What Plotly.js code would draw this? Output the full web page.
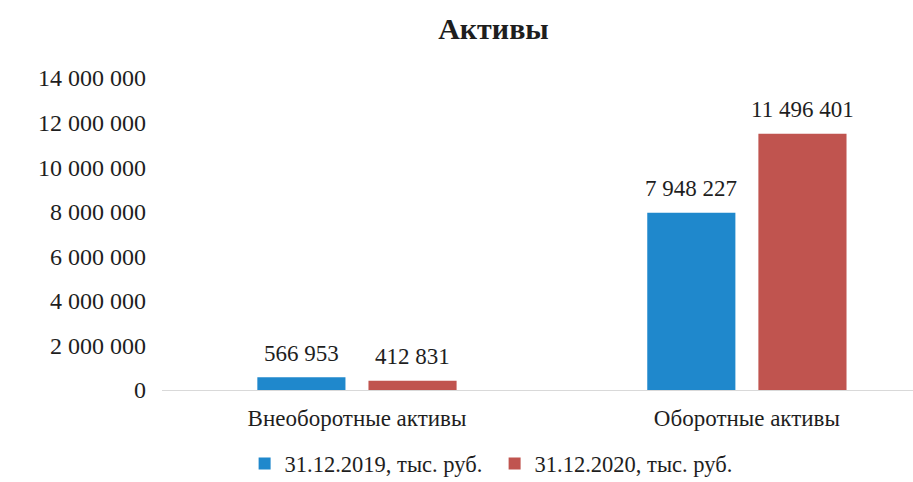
<!DOCTYPE html>
<html>
<head>
<meta charset="utf-8">
<script src="https://cdn.plot.ly/plotly-3.0.1.min.js"></script>
<style>html,body{margin:0;padding:0;overflow:hidden;background:#fff;}</style>
</head>
<body>
<div id="chart" style="width:913px;height:482px;"></div>
<script>
const categories = ["Внеоборотные активы", "Оборотные активы"];
const series2019 = [566953, 7948227];
const series2020 = [412831, 11496401];
const seriesNames = ["31.12.2019, тыс. руб.", "31.12.2020, тыс. руб."];
const tickValues = [0, 2000000, 4000000, 6000000, 8000000, 10000000, 12000000, 14000000];

const FONT = "Liberation Serif, Times New Roman, serif";
const TXT = "#1e1e1e";
const BLUE = "#1f88cc";
const RED = "#c0544f";

function fmt(v) { return String(v).replace(/\B(?=(\d{3})+(?!\d))/g, " "); }

const traces = [
  {type: "bar", name: seriesNames[0], x: categories, y: series2019, marker: {color: BLUE}, hoverinfo: "none"},
  {type: "bar", name: seriesNames[1], x: categories, y: series2020, marker: {color: RED}, hoverinfo: "none"}
];

const annotations = [];
[series2019, series2020].forEach((s, si) => {
  s.forEach((v, ci) => {
    annotations.push({
      x: categories[ci], y: v, xref: "x", yref: "y",
      xshift: si === 0 ? -55.5 : 55.5, yshift: 24,
      text: fmt(v), showarrow: false,
      font: {family: FONT, size: 23, color: TXT}
    });
  });
});

const layout = {
  width: 913, height: 482,
  paper_bgcolor: "#fff", plot_bgcolor: "#fff",
  margin: {l: 162, r: 0, t: 78, b: 92, autoexpand: false},
  separators: ", ",
  title: {text: "<b>Активы</b>", x: 0.5405, xref: "container", xanchor: "center", y: 0.94, yref: "container", yanchor: "middle",
          font: {family: FONT, size: 30, color: TXT}},
  barmode: "group", bargap: 0.43, bargroupgap: 0.207,
  xaxis: {range: [-0.5, 1.426], showline: true, linecolor: "#d9d9d9", linewidth: 1, ticks: "", ticklabelstandoff: 7,
          tickfont: {family: FONT, size: 23, color: TXT}, showgrid: false, zeroline: false, fixedrange: true},
  yaxis: {range: [0, 14000000], tickvals: tickValues, tickformat: ",d", showgrid: false, zeroline: false,
          showline: false, ticks: "", ticklabelstandoff: 15,
          tickfont: {family: FONT, size: 24, color: TXT}, fixedrange: true},
  showlegend: true,
  legend: {orientation: "h", x: 0.11, xanchor: "left", y: -0.237, yanchor: "middle",
           font: {family: FONT, size: 22.5, color: TXT}, itemwidth: 30, traceorder: "normal",
           entrywidth: 205, entrywidthmode: "pixels"},
  annotations: annotations
};

Plotly.newPlot("chart", traces, layout, {displayModeBar: false, staticPlot: true});
</script>
</body>
</html>
